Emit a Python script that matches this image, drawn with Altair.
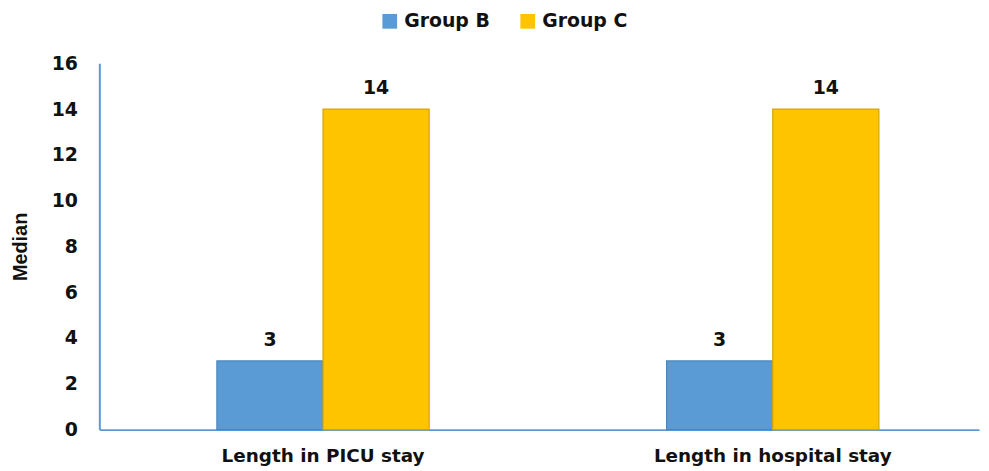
import altair as alt
import pandas as pd

categories = ["Length in PICU stay", "Length in hospital stay"]
groups = ["Group B", "Group C"]
group_b = [3, 3]
group_c = [14, 14]

rows = []
for i, c in enumerate(categories):
    rows.append({"cat": c, "group": "Group B", "value": group_b[i]})
    rows.append({"cat": c, "group": "Group C", "value": group_c[i]})
df = pd.DataFrame(rows)

colors = ["#5B9BD5", "#FFC400"]
strokes = ["#4A86BD", "#D9A300"]
FONT = "DejaVu Sans"

x = alt.X("cat:N", sort=categories, title=None,
          scale=alt.Scale(paddingInner=0.528, paddingOuter=0.242, align=0.54),
          axis=alt.Axis(labelAngle=0, labelFont=FONT, labelFontWeight="bold",
                        labelFontSize=18.5, labelColor="#111111", ticks=False,
                        labelLimit=400,
                        domainColor="#5B9BD5", domainWidth=2, labelPadding=17))
y = alt.Y("value:Q", title="Median",
          scale=alt.Scale(domain=[0, 16], nice=False),
          axis=alt.Axis(values=list(range(0, 17, 2)), grid=False, ticks=False,
                        labelFont=FONT, labelFontWeight="bold", labelFontSize=19,
                        labelColor="#111111", labelPadding=22,
                        domainColor="#5B9BD5", domainWidth=2,
                        titleFont="Liberation Sans", titleFontSize=20,
                        titleFontWeight="bold", titleColor="#111111", titlePadding=21))

base = alt.Chart(df).encode(x=x, xOffset=alt.XOffset("group:N", sort=groups))

bars = base.mark_bar(strokeWidth=1.2).encode(
    y=y,
    color=alt.Color("group:N", sort=groups,
                    scale=alt.Scale(domain=groups, range=colors),
                    legend=alt.Legend(title=None, orient="none", direction="horizontal",
                                      legendX=283, legendY=-52, symbolType="square",
                                      symbolSize=220, symbolStrokeWidth=0,
                                      labelFont=FONT, labelFontWeight="bold",
                                      labelFontSize=19, labelColor="#111111",
                                      labelOffset=5,
                                      columnPadding=28, symbolOffset=0)),
    stroke=alt.Stroke("group:N", sort=groups,
                      scale=alt.Scale(domain=groups, range=strokes), legend=None),
)

labels = base.mark_text(dy=-21, font=FONT, fontWeight="bold", fontSize=19,
                        color="#111111").encode(
    y=alt.Y("value:Q"),
    text=alt.Text("value:Q"),
)

chart = (bars + labels).properties(width=886, height=369, padding=2).configure_view(stroke=None)

chart.save("out.html", embed_options={"renderer": "svg", "actions": False})
